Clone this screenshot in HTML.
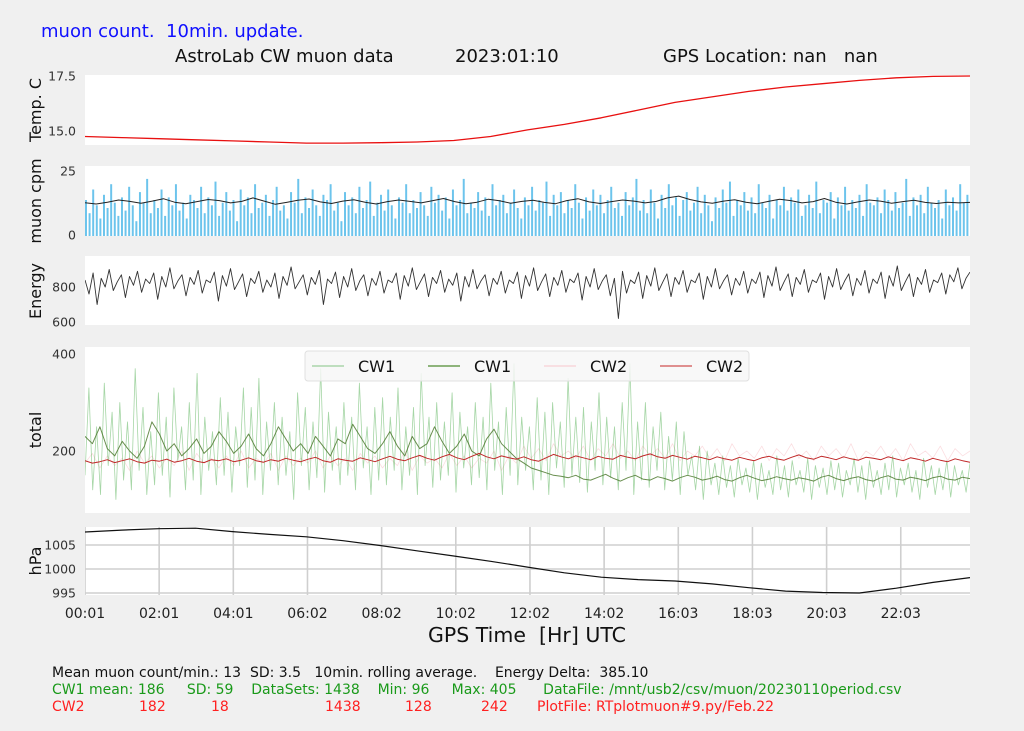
<!DOCTYPE html>
<html><head><meta charset="utf-8">
<style>
html,body{margin:0;padding:0;background:#f0f0f0;}
svg{display:block;font-family:"DejaVu Sans","Liberation Sans",sans-serif;}
text{white-space:pre;}
.tk{font-size:12.5px;fill:#333;}
.yt{font-size:16px;fill:#111;}
</style></head>
<body>
<svg id="chart" width="1024" height="731" viewBox="0 0 1024 731" xmlns="http://www.w3.org/2000/svg" xml:space="preserve">
<rect x="0" y="0" width="1024" height="731" fill="#f0f0f0"/>
<text x="41" y="37" font-size="18" fill="#1010ff">muon count.  10min. update.</text>
<text x="175" y="62" font-size="18" fill="#111">AstroLab CW muon data</text>
<text x="455" y="62" font-size="18" fill="#111">2023:01:10</text>
<text x="663" y="62" font-size="18" fill="#111">GPS Location: nan   nan</text>
<g id="panels"></g>
<text x="527" y="642" font-size="20.5" text-anchor="middle" fill="#111">GPS Time  [Hr] UTC</text>
<text x="52" y="677" font-size="14" fill="#111">Mean muon count/min.: 13  SD: 3.5   10min. rolling average.    Energy Delta:  385.10</text>
<text x="52" y="694" font-size="14" fill="#1a9a1a">CW1 mean: 186     SD: 59    DataSets: 1438    Min: 96     Max: 405      DataFile: /mnt/usb2/csv/muon/20230110period.csv</text>
<text y="711" font-size="14" fill="#ff2020"><tspan x="52">CW2</tspan><tspan x="139">182</tspan><tspan x="211">18</tspan><tspan x="325">1438</tspan><tspan x="405">128</tspan><tspan x="481">242</tspan><tspan x="537">PlotFile: RTplotmuon#9.py/Feb.22</tspan></text>
</svg>
<script>
const xTickLabels=["00:01","02:01","04:01","06:02","08:02","10:02","12:02","14:02","16:03","18:03","20:03","22:03"];
const tempHourly=[14.75,14.7,14.65,14.6,14.55,14.5,14.45,14.45,14.47,14.5,14.57,14.75,15.05,15.3,15.6,15.95,16.3,16.55,16.8,17.0,17.15,17.3,17.42,17.48,17.5];
const muonBars=[14,9,18,12,7,16,11,20,13,8,15,10,19,12,6,17,13,22,9,14,11,18,8,15,12,20,10,13,7,16,14,11,19,9,15,12,21,8,13,17,10,14,6,18,12,15,9,20,11,13,16,8,14,19,10,12,7,17,13,22,9,15,11,18,12,8,16,14,20,10,13,6,17,12,15,9,19,11,14,21,8,13,16,10,18,12,7,15,13,20,9,14,11,17,12,8,19,13,16,10,15,7,18,12,14,22,9,13,11,17,10,15,8,20,12,14,16,9,13,18,11,7,15,12,19,10,14,13,21,8,16,12,17,9,14,11,20,13,7,15,10,18,12,16,9,14,19,11,13,8,17,12,15,22,10,14,9,18,13,7,16,11,20,12,15,8,14,17,10,13,19,9,16,12,6,15,11,18,13,21,8,14,12,17,10,15,9,20,13,11,16,7,14,12,19,10,15,13,18,8,12,16,11,21,9,14,13,17,7,15,12,19,10,14,11,16,8,20,13,12,15,9,18,14,10,17,11,13,22,8,15,12,16,9,19,13,11,14,7,18,12,15,10,20,13,16];
const muonAvg=[13,12.5,13.2,14,13.5,12.8,13.6,14.5,13.2,12.6,13.4,14.2,13.8,12.9,13.5,14.8,13.6,12.4,13.1,13.9,14.4,13.3,12.7,13.6,14.1,13.2,12.5,13.4,14.0,13.5,12.9,13.7,14.6,13.4,12.6,13.2,14.3,13.7,12.8,13.5,13.9,13.1,12.6,13.8,14.5,13.3,12.7,13.4,14.0,13.6,12.9,13.5,14.8,15.5,14.2,13.3,12.8,13.6,14.1,13.2,12.6,13.5,14.3,13.8,12.9,13.4,14.6,13.2,12.5,13.3,14.0,13.6,12.8,13.4,13.9,13.1,12.7,13.2,12.9,13.1];
const energy=[840,760,880,700,850,800,900,780,830,870,740,860,810,890,770,845,820,880,730,860,800,910,790,835,870,750,855,815,895,765,840,825,885,720,865,805,905,785,830,875,745,850,820,890,770,840,800,880,735,860,810,915,790,830,870,755,855,815,895,700,845,820,885,740,860,800,905,780,835,870,750,850,810,890,765,840,825,880,730,865,805,910,785,830,875,745,855,820,895,770,845,810,880,720,860,800,900,790,835,870,750,850,815,890,765,840,820,885,735,865,805,910,780,830,875,745,855,810,895,770,845,825,880,725,860,800,905,785,835,870,750,850,620,890,765,840,820,885,735,865,805,910,780,830,875,745,855,815,895,770,840,825,880,730,860,800,905,790,835,870,755,850,810,890,765,845,820,885,740,865,805,915,780,830,875,745,855,815,900,770,840,825,880,730,860,800,905,785,835,875,750,850,810,895,765,845,820,885,735,865,805,920,780,830,875,745,855,815,900,770,840,825,880,760,870,830,910,790,850,885];
const cw1Raw=[150,330,120,250,110,340,170,280,100,300,140,260,120,370,160,290,110,240,130,320,150,270,105,330,180,250,120,300,140,360,110,270,160,240,130,310,150,280,115,250,170,330,125,290,140,350,110,260,160,300,130,270,150,240,100,320,170,290,120,260,145,370,115,280,160,250,130,300,150,270,120,340,165,250,110,290,140,310,130,270,160,330,120,250,150,290,110,360,170,270,125,300,140,260,150,320,115,280,165,250,130,300,145,270,120,340,160,260,110,290,150,380,130,270,160,250,120,310,140,280,110,300,165,260,125,350,150,270,135,290,115,260,160,320,130,270,145,250,120,300,160,380,110,260,140,300,125,250,160,280,120,230,140,260,110,240,150,190,120,210,100,200,130,175,110,190,125,170,105,185,130,165,115,180,100,175,125,160,110,190,120,170,105,180,130,160,115,185,100,170,125,165,110,180,120,175,105,160,130,185,115,170,100,180,125,160,110,175,120,190,105,165,130,175,115,160,100,185,125,170,110,165,120,180,105,170,130,160,115,175];
const cw1Roll=[230,215,250,205,190,220,200,185,210,260,235,200,215,190,205,225,195,210,240,220,195,210,235,205,190,215,250,225,200,215,195,230,210,190,225,215,255,230,205,195,215,240,210,190,230,205,215,250,220,195,210,235,200,190,225,245,215,200,185,175,165,160,155,150,148,145,150,142,140,146,152,144,138,145,150,142,140,147,143,138,145,150,146,140,143,148,141,138,145,150,144,139,142,147,143,140,145,142,138,146,150,143,139,144,147,141,138,145,149,142,140,146,143,139,145,148,142,140,146,143];
const cw2Raw=[175,195,165,190,170,185,160,200,175,190,165,185,170,200,160,195,175,185,165,190,170,200,165,185,175,195,160,190,170,185,175,200,165,190,170,185,160,195,175,190,165,185,170,200,160,190,175,185,165,195,170,190,165,185,175,200,160,190,175,210,185,205,180,215,190,200,185,210,180,205,190,215,185,200,180,210,190,205,185,215,180,200,190,210,185,205,180,215,190,200,185,210,180,205,190,215,185,200,180,210,190,205,185,215,180,200,190,210,185,205,180,215,190,200,185,210,180,205,190,200];
const cw2Roll=[180,175,178,182,176,180,184,178,175,181,179,183,177,180,185,179,176,182,180,184,178,181,186,180,177,182,179,185,181,178,183,187,180,177,184,181,179,186,182,178,184,189,183,180,186,191,185,181,188,193,186,182,189,195,188,184,190,186,183,188,182,179,186,193,188,184,190,186,182,189,185,183,191,187,184,190,194,188,185,191,187,183,189,186,182,188,184,181,187,183,180,186,189,184,181,187,192,186,183,189,186,182,188,184,181,187,185,182,188,184,180,186,183,179,185,181,178,184,180,177];
const pressHourly=[1007.7,1008.1,1008.4,1008.5,1007.8,1007.2,1006.7,1005.9,1004.9,1003.8,1002.7,1001.6,1000.4,999.2,998.3,997.8,997.5,996.9,996.1,995.4,995.1,995.0,996.0,997.2,998.2];

const NS="http://www.w3.org/2000/svg";
const root=document.getElementById('panels');
const X0=85,X1=970,TOTAL=1438;
function xMin(m){return X0+(m/TOTAL)*(X1-X0);}
function xIdx(i,n){return X0+(i/(n-1))*(X1-X0);}
function mk(tag,attrs,parent){const e=document.createElementNS(NS,tag);for(const k in attrs)e.setAttribute(k,attrs[k]);(parent||root).appendChild(e);return e;}
function yScale(v0,p0,v1,p1){return v=>p0+(v-v0)*(p1-p0)/(v1-v0);}
function panel(name,top,bot,title,titleY){
  const r=mk('rect',{x:X0,y:top,width:X1-X0,height:bot-top,fill:'#fff'});
  
  
  const cp=mk('clipPath',{id:'cp-'+name});
  mk('rect',{x:X0,y:top,width:X1-X0,height:bot-top},cp);
  const g=mk('g',{'clip-path':'url(#cp-'+name+')'});
  
  
  const t=mk('text',{x:0,y:0,class:'yt','text-anchor':'middle',transform:'translate(41,'+titleY+') rotate(-90)'});
  t.textContent=title;
  
  
  return g;
}
function ytick(label,y,name){const t=mk('text',{x:76,y:y+4.5,class:'tk','text-anchor':'end'});t.textContent=label;}
function poly(g,vals,ys,stroke,w,op,name){
  const pts=vals.map((v,i)=>xIdx(i,vals.length).toFixed(1)+','+ys(v).toFixed(1)).join(' ');
  const p=mk('polyline',{points:pts,fill:'none',stroke:stroke,'stroke-width':w,'stroke-opacity':op,'stroke-linejoin':'round'},g);
  
  
}

{const g=panel('temperature',75,145,'Temp. C',110);const ys=yScale(15,131,17.5,76);
poly(g,tempHourly,ys,'#e81010',1.3,1,'temperature-line');
ytick('17.5',ys(17.5),'y-tick-17-5');ytick('15.0',ys(15),'y-tick-15-0');}

{const g=panel('muon',166,236,'muon cpm',201);const ys=yScale(0,237,25,171);
const n=muonBars.length,w=(X1-X0)/n;
muonBars.forEach((v,i)=>{const r=mk('rect',{x:(X0+i*w).toFixed(2),y:ys(v).toFixed(1),width:(w*0.55).toFixed(2),height:(ys(0)-ys(v)).toFixed(1),fill:'#6cc4ec'},g);

});
poly(g,muonAvg,ys,'#222',1,1,'muon-rolling-average');
ytick('25',ys(25),'y-tick-25');ytick('0',ys(0)-2,'y-tick-0');}

{const g=panel('energy',256,325,'Energy',291);const ys=yScale(600,322,800,287);
poly(g,energy,ys,'#333',0.9,1,'energy-line');
ytick('800',ys(800),'y-tick-800');ytick('600',ys(600),'y-tick-600');}

{const g=panel('total',347,513,'total',430);const ys=yScale(200,451,400,354);
poly(g,cw2Raw,ys,'#f4a0a8',0.8,0.35,'cw2-raw-line');
poly(g,cw1Raw,ys,'#3aa53a',0.8,0.45,'cw1-raw-line');
poly(g,cw1Roll,ys,'#4f7a30',1,0.85,'cw1-rolling-line');
poly(g,cw2Roll,ys,'#c02828',1,1,'cw2-rolling-line');
ytick('400',ys(400),'y-tick-400');ytick('200',ys(200),'y-tick-200');
const lg=mk('g',{});
mk('rect',{x:305,y:351,width:444,height:30,rx:3,fill:'#f7f7f7','fill-opacity':0.85,stroke:'#e0e0e0'},lg);
const items=[[312,'#9ccf9c','CW1'],[428,'#4f8a30','CW1'],[544,'#f8d0d4','CW2'],[660,'#d05050','CW2']];
items.forEach((it,i)=>{const e=mk('g',{},lg);
mk('line',{x1:it[0],y1:366,x2:it[0]+32,y2:366,stroke:it[1],'stroke-width':1.2},e);
const t=mk('text',{x:it[0]+46,y:372,'font-size':16,fill:'#111'},e);t.textContent=it[2];});}

{const g=panel('pressure',527,595,'hPa',561);const ys=yScale(1000,569,1005,545);
[1005,1000,995].forEach(v=>{const l=mk('line',{x1:X0,y1:ys(v),x2:X1,y2:ys(v),stroke:'#cfcfcf','stroke-width':1.6},g);});
xTickLabels.forEach((lab,i)=>{const x=xMin(i*120.5);const l=mk('line',{x1:x,y1:527,x2:x,y2:595,stroke:'#cfcfcf','stroke-width':1.6},g);});
poly(g,pressHourly,ys,'#111',1.2,1,'pressure-line');
ytick('1005',ys(1005),'y-tick-1005');ytick('1000',ys(1000),'y-tick-1000');ytick('995',ys(995),'y-tick-995');
xTickLabels.forEach((lab,i)=>{const t=mk('text',{x:xMin(i*120.5),y:618,'font-size':14,fill:'#222','text-anchor':'middle'});t.textContent=lab;

});}
</script>
</body></html>
